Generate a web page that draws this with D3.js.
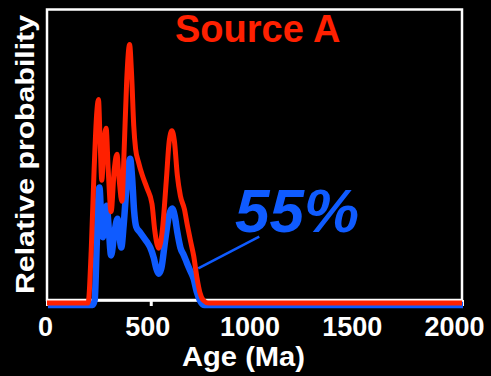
<!DOCTYPE html>
<html>
<head>
<meta charset="utf-8">
<script src="https://cdn.jsdelivr.net/npm/d3@7"></script>
<style>
  html, body { margin: 0; padding: 0; background: #000; }
  svg { display: block; }
  text { font-family: "Liberation Sans", Arial, sans-serif; font-weight: bold; }
</style>
</head>
<body>
<svg id="chart" width="491" height="376"></svg>
<script>
// Age (Ma) and relative probability (0-100) of Source A (red) and the 55% fraction (blue)
const redAges = [0, 198, 213, 227, 239, 248, 256, 264, 275, 285, 295, 309, 324, 337, 348, 361, 372, 384, 398, 408, 418, 427, 441, 459, 482, 506, 519, 538, 556, 575, 589, 602, 614, 628, 643, 662, 676, 691, 707, 722, 737, 754, 778, 2000];
const redValues = [0, 0, 20, 51, 72, 78, 62, 47, 62, 67, 51, 35, 51, 57, 47, 39, 59, 85, 99, 87, 68, 59, 54, 49, 44, 38, 28, 21, 28, 47, 62, 66, 62, 49, 41, 36, 30, 24, 18, 10, 4, 1, 0, 0];

const blueAges = [0, 215, 225, 234, 242, 248, 256, 264, 274, 283, 293, 304, 319, 335, 343, 353, 365, 379, 389, 396, 406, 415, 425, 442, 460, 478, 493, 510, 522, 533, 546, 565, 582, 598, 611, 623, 638, 655, 670, 686, 702, 717, 734, 754, 2000];
const blueValues = [0, 0, 2, 21, 40, 45, 34, 26, 34, 38, 29, 19, 27, 33, 28, 22, 31, 46, 54, 56, 48, 36, 30, 28, 26, 24, 22, 18, 14, 12, 14, 25, 34, 37, 34, 28, 22, 19, 16, 13, 10, 5, 1.5, 0, 0];

const xTicks = [0, 500, 1000, 1500, 2000];
const titleText = "Source A";
const percentText = "55%";
const xLabel = "Age (Ma)";
const yLabel = "Relative probability";
// annotation pointer: from curve (age, value) to label (age, value)
const pointerAges = [729, 1023];
const pointerValues = [13.3, 25.4];

const RED = "#ff2000";
const BLUE = "#0f5bff";

const svg = d3.select("#chart");
const W = 491, H = 376;
svg.append("rect").attr("width", W).attr("height", H).attr("fill", "#000");

const x = d3.scaleLinear().domain([0, 2000]).range([47, 462]);
const y = d3.scaleLinear().domain([0, 100]).range([303, 42]);

const line = d3.line().x(d => x(d[0])).y(d => y(d[1])).curve(d3.curveMonotoneX);

// frame
svg.append("rect")
  .attr("x", x(0)).attr("y", 9.5)
  .attr("width", x(2000) - x(0)).attr("height", 300 - 9.5)
  .attr("fill", "none").attr("stroke", "#fff").attr("stroke-width", 2.5);

// x axis
const axis = d3.axisBottom(x).tickValues(xTicks).tickFormat(d3.format("d")).tickSize(6).tickSizeOuter(0);
const gx = svg.append("g").attr("transform", "translate(0,300)").call(axis);
gx.select(".domain").attr("stroke", "#fff").attr("stroke-width", 2.5);
gx.selectAll(".tick line").attr("stroke", "#fff").attr("stroke-width", 3);
gx.selectAll(".tick text")
  .attr("fill", "#fff").attr("y", 36).attr("dy", 0)
  .attr("x", d => (45 + (x(d) - x(0)) * 0.9855) - x(d))
  .attr("font-size", 27).attr("font-family", "Liberation Sans, Arial, sans-serif").attr("font-weight", "bold");

// curves
svg.append("path")
  .datum(blueAges.map((a, i) => [a, blueValues[i]]))
  .attr("d", line)
  .attr("transform", "translate(1,2)")
  .attr("fill", "none").attr("stroke", BLUE).attr("stroke-width", 6.5)
  .attr("stroke-linejoin", "round");

svg.append("path")
  .datum(redAges.map((a, i) => [a, redValues[i]]))
  .attr("d", line)
  .attr("fill", "none").attr("stroke", RED).attr("stroke-width", 5)
  .attr("stroke-linejoin", "round");

// pointer
svg.append("line")
  .attr("x1", x(pointerAges[0])).attr("y1", y(pointerValues[0]))
  .attr("x2", x(pointerAges[1])).attr("y2", y(pointerValues[1]))
  .attr("stroke", BLUE).attr("stroke-width", 2.5);

// texts
svg.append("text").text(titleText)
  .attr("x", 175).attr("y", 41.5)
  .attr("fill", RED).attr("font-size", 38);

svg.append("text").text(percentText)
  .attr("x", 235).attr("y", 231.5)
  .attr("fill", BLUE).attr("font-size", 62).attr("font-style", "italic");

svg.append("text").text(xLabel)
  .attr("x", 243.5).attr("y", 366)
  .attr("text-anchor", "middle")
  .attr("fill", "#fff").attr("font-size", 27)
  .attr("textLength", 123).attr("lengthAdjust", "spacingAndGlyphs");

svg.append("text").text(yLabel)
  .attr("transform", "translate(34,154.5) rotate(-90)")
  .attr("text-anchor", "middle")
  .attr("fill", "#fff").attr("font-size", 26)
  .attr("textLength", 279).attr("lengthAdjust", "spacingAndGlyphs");
</script>
</body>
</html>
